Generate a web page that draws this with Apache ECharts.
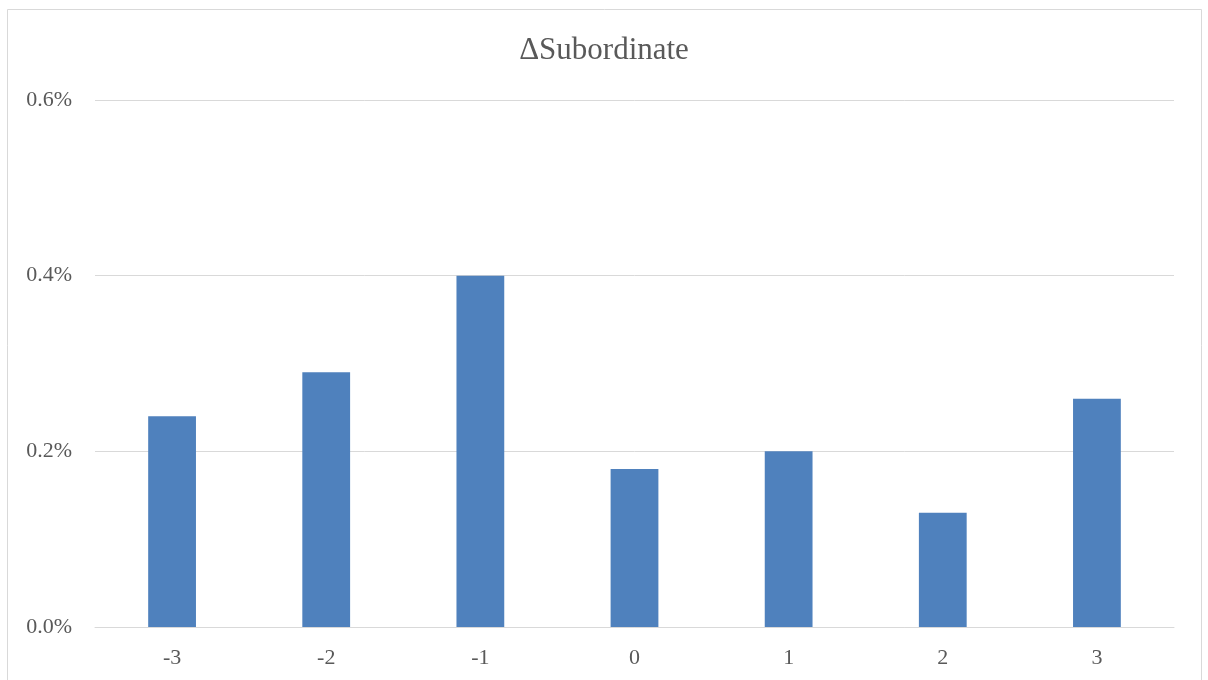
<!DOCTYPE html>
<html><head><meta charset="utf-8">
<script src="https://cdn.jsdelivr.net/npm/echarts@6/dist/echarts.min.js"></script>
<style>html,body{margin:0;padding:0;background:#fff}#c{width:1208px;height:680px}</style>
</head><body><div id="c"></div>
<script>
const titleText = 'ΔSubordinate';
const categories = ['-3','-2','-1','0','1','2','3'];
const values = [0.24, 0.29, 0.40, 0.18, 0.20, 0.13, 0.26];
const yTicks = [0, 0.2, 0.4, 0.6];

const chart = echarts.init(document.getElementById('c'));
const font = '"Liberation Serif", "Times New Roman", serif';
chart.setOption({
  animation: false,
  backgroundColor: '#fff',
  title: {text: titleText, left: 'center', top: 30,
    textStyle: {fontFamily: font, fontSize: 31, fontWeight: 'normal', color: '#595959'}},
  graphic: [{type: 'rect', shape: {x: 7.5, y: 9.5, width: 1194, height: 700},
    style: {fill: 'none', stroke: '#d9d9d9', lineWidth: 1}, silent: true}],
  grid: {left: 95, right: 34, top: 100, bottom: 53, containLabel: false},
  xAxis: {type: 'category', data: categories,
    axisLine: {lineStyle: {color: '#d9d9d9', width: 1}},
    axisTick: {show: false},
    axisLabel: {fontFamily: font, fontSize: 22, color: '#595959', margin: 20}},
  yAxis: {type: 'value', min: 0, max: 0.6, interval: 0.2,
    axisLine: {show: false}, axisTick: {show: false},
    splitLine: {lineStyle: {color: '#d9d9d9', width: 1}},
    axisLabel: {fontFamily: font, fontSize: 22, color: '#595959', margin: 23,
      formatter: v => v.toFixed(1) + '%'}},
  series: [{type: 'bar', data: values, barWidth: '31%',
    itemStyle: {color: '#4f81bd'}}]
});
</script></body></html>
